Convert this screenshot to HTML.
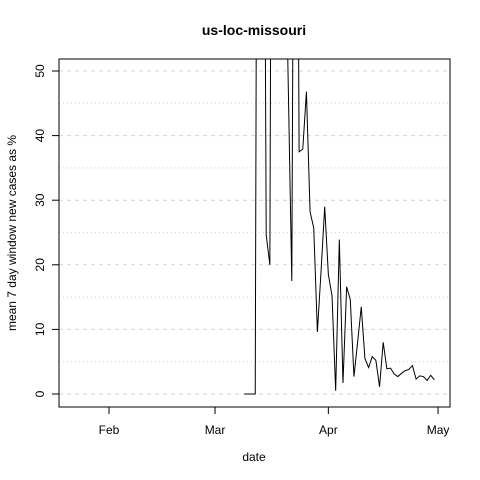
<!DOCTYPE html>
<html><head><meta charset="utf-8"><style>body{margin:0;background:#fff}svg{display:block;font-family:"Liberation Sans",sans-serif}</style></head>
<body>
<svg id="chart" width="480" height="480">
<defs><clipPath id="pc"><rect x="59" y="59" width="391" height="348"/></clipPath></defs>
<text x="254" y="35" text-anchor="middle" font-weight="bold" font-size="14">us-loc-missouri</text>
<text x="254" y="461" text-anchor="middle" font-size="12">date</text>
<text transform="translate(16,233) rotate(-90)" text-anchor="middle" font-size="12">mean  7  day window new cases as %</text>
<g id="grid"></g><g id="axes"></g><g id="series" clip-path="url(#pc)"></g>
<rect x="59" y="59" width="391" height="348" fill="none" stroke="#000"/>
</svg>
<script>
const days=[37,38,39,40,41,42,43,44,45,46,47,48,50,51,52,53,54,55,56,57,58,59,60,61,62,63,64,65,66,67,68,69,70,71,72,73,74,75,76,77,78,79,80,81,82,83,84,85,86,87,88,89];
const values=[0,0,0,0,200,150,24.6,20,200,150,120,80,17.5,150,37.5,37.9,46.8,28.2,25.7,9.6,19,29,18.5,15.2,0.5,23.9,1.7,16.6,14.6,2.7,8,13.5,5.5,4.1,5.8,5.2,1.1,8,3.9,4,3.1,2.7,3.2,3.6,3.8,4.4,2.3,2.8,2.7,2.1,2.9,2.2];
const xTickDays=[0,29,60,90];
const xTickLabels=["Feb","Mar","Apr","May"];
const yTicks=[0,10,20,30,40,50];
const yMinor=[5,15,25,35,45];
const X=d=>109+d*3.656, Y=v=>394-v*6.46;
const ns="http://www.w3.org/2000/svg";
function mk(p,t,a){const e=document.createElementNS(ns,t);for(const k in a)e.setAttribute(k,a[k]);p.appendChild(e);return e;}
const g=document.getElementById('grid'),ax=document.getElementById('axes'),s=document.getElementById('series');
yTicks.forEach(v=>{const l=mk(g,'line',{x1:59,x2:450,y1:Y(v),y2:Y(v),stroke:'#d3d3d3','stroke-dasharray':'4,4'});


const t=mk(ax,'line',{x1:52,x2:59,y1:Y(v),y2:Y(v),stroke:'#000'});


const tx=mk(ax,'text',{transform:`translate(44,${Y(v)}) rotate(-90)`,'text-anchor':'middle','font-size':12});
tx.textContent=v;

});
yMinor.forEach(v=>{const l=mk(g,'line',{x1:59,x2:450,y1:Y(v),y2:Y(v),stroke:'#d3d3d3','stroke-dasharray':'1,3'});

});
xTickDays.forEach((d,i)=>{const t=mk(ax,'line',{x1:X(d),x2:X(d),y1:407,y2:414,stroke:'#000'});


const tx=mk(ax,'text',{x:X(d),y:434,'text-anchor':'middle','font-size':12});
tx.textContent=xTickLabels[i];

});
const p=mk(s,'polyline',{points:days.map((d,i)=>X(d)+','+Y(values[i])).join(' '),fill:'none',stroke:'#000','stroke-width':1});


</script>
</body></html>
